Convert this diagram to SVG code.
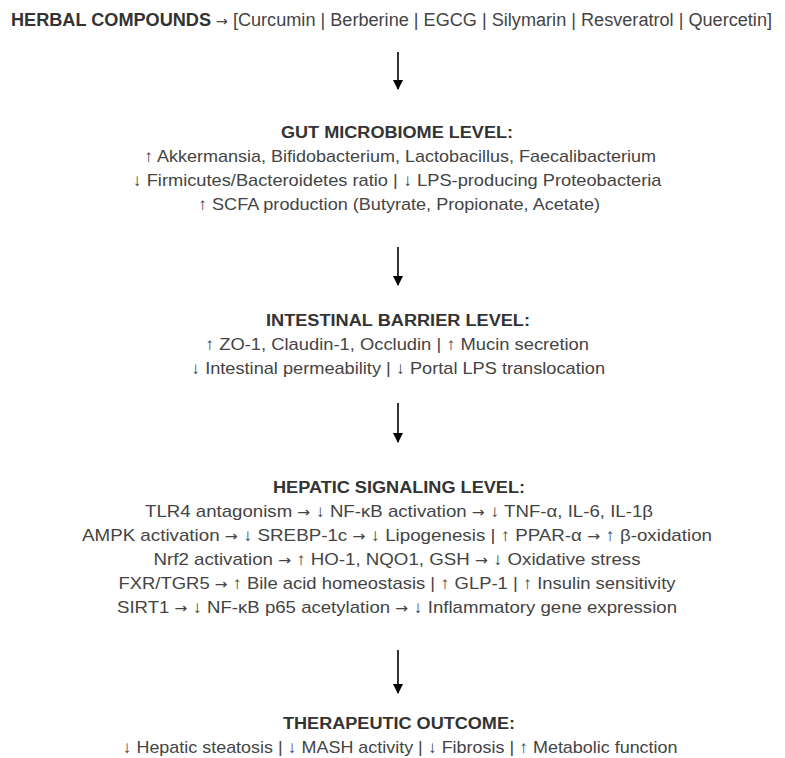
<svg xmlns="http://www.w3.org/2000/svg" width="785" height="758" viewBox="0 0 785 758">
<defs>
<style>
text{font-family:"Liberation Sans",Arial,Helvetica,sans-serif;text-anchor:middle;fill:#444}
.top{font-size:18px;text-anchor:start}
.b{font-weight:bold;fill:#333}
.h{font-size:16px;font-weight:bold;fill:#333}
.t{font-size:17px}
.a{font-family:"DejaVu Sans",sans-serif;font-size:14px}
.conn line{stroke:#333;stroke-width:2}
</style>
<marker id="ah" viewBox="0 0 10 10" refX="9" refY="5" markerWidth="5" markerHeight="5" markerUnits="strokeWidth" orient="auto">
<path d="M0,0 L10,5 L0,10 z" fill="#000"/>
</marker>
</defs>
<rect width="785" height="758" fill="#fff"/>
<g id="herbal">
<text class="top" x="11" y="26" textLength="761" lengthAdjust="spacingAndGlyphs"><tspan class="b">HERBAL COMPOUNDS</tspan> <tspan class="a">→</tspan> [Curcumin | Berberine | EGCG | Silymarin | Resveratrol | Quercetin]</text>
</g>
<g id="gut">
<text class="h" x="397" y="138" textLength="232" lengthAdjust="spacingAndGlyphs">GUT MICROBIOME LEVEL:</text>
<text class="t" x="400" y="162" textLength="512" lengthAdjust="spacingAndGlyphs">↑ Akkermansia, Bifidobacterium, Lactobacillus, Faecalibacterium</text>
<text class="t" x="397" y="186" textLength="529" lengthAdjust="spacingAndGlyphs">↓ Firmicutes/Bacteroidetes ratio | ↓ LPS-producing Proteobacteria</text>
<text class="t" x="399" y="210" textLength="402" lengthAdjust="spacingAndGlyphs">↑ SCFA production (Butyrate, Propionate, Acetate)</text>
</g>
<g id="barrier">
<text class="h" x="398" y="326" textLength="264" lengthAdjust="spacingAndGlyphs">INTESTINAL BARRIER LEVEL:</text>
<text class="t" x="397" y="350" textLength="384" lengthAdjust="spacingAndGlyphs">↑ ZO-1, Claudin-1, Occludin | ↑ Mucin secretion</text>
<text class="t" x="398" y="374" textLength="414" lengthAdjust="spacingAndGlyphs">↓ Intestinal permeability | ↓ Portal LPS translocation</text>
</g>
<g id="hepatic">
<text class="h" x="399" y="493" textLength="252" lengthAdjust="spacingAndGlyphs">HEPATIC SIGNALING LEVEL:</text>
<text class="t" x="399" y="517" textLength="508" lengthAdjust="spacingAndGlyphs">TLR4 antagonism <tspan class="a">→</tspan> ↓ NF-κB activation <tspan class="a">→</tspan> ↓ TNF-α, IL-6, IL-1β</text>
<text class="t" x="397" y="541" textLength="630" lengthAdjust="spacingAndGlyphs">AMPK activation <tspan class="a">→</tspan> ↓ SREBP-1c <tspan class="a">→</tspan> ↓ Lipogenesis | ↑ PPAR-α <tspan class="a">→</tspan> ↑ β-oxidation</text>
<text class="t" x="397" y="565" textLength="487" lengthAdjust="spacingAndGlyphs">Nrf2 activation <tspan class="a">→</tspan> ↑ HO-1, NQO1, GSH <tspan class="a">→</tspan> ↓ Oxidative stress</text>
<text class="t" x="397" y="589" textLength="557" lengthAdjust="spacingAndGlyphs">FXR/TGR5 <tspan class="a">→</tspan> ↑ Bile acid homeostasis | ↑ GLP-1 | ↑ Insulin sensitivity</text>
<text class="t" x="397" y="613" textLength="560" lengthAdjust="spacingAndGlyphs">SIRT1 <tspan class="a">→</tspan> ↓ NF-κB p65 acetylation <tspan class="a">→</tspan> ↓ Inflammatory gene expression</text>
</g>
<g id="outcome">
<text class="h" x="399" y="729" textLength="232" lengthAdjust="spacingAndGlyphs">THERAPEUTIC OUTCOME:</text>
<text class="t" x="400" y="753" textLength="555" lengthAdjust="spacingAndGlyphs">↓ Hepatic steatosis | ↓ MASH activity | ↓ Fibrosis | ↑ Metabolic function</text>
</g>
<g class="conn" id="connectors">
<line x1="398" y1="52" x2="398" y2="89" marker-end="url(#ah)"/>
<line x1="398" y1="247" x2="398" y2="285" marker-end="url(#ah)"/>
<line x1="398" y1="403" x2="398" y2="442" marker-end="url(#ah)"/>
<line x1="398" y1="650" x2="398" y2="693" marker-end="url(#ah)"/>
</g>
</svg>
